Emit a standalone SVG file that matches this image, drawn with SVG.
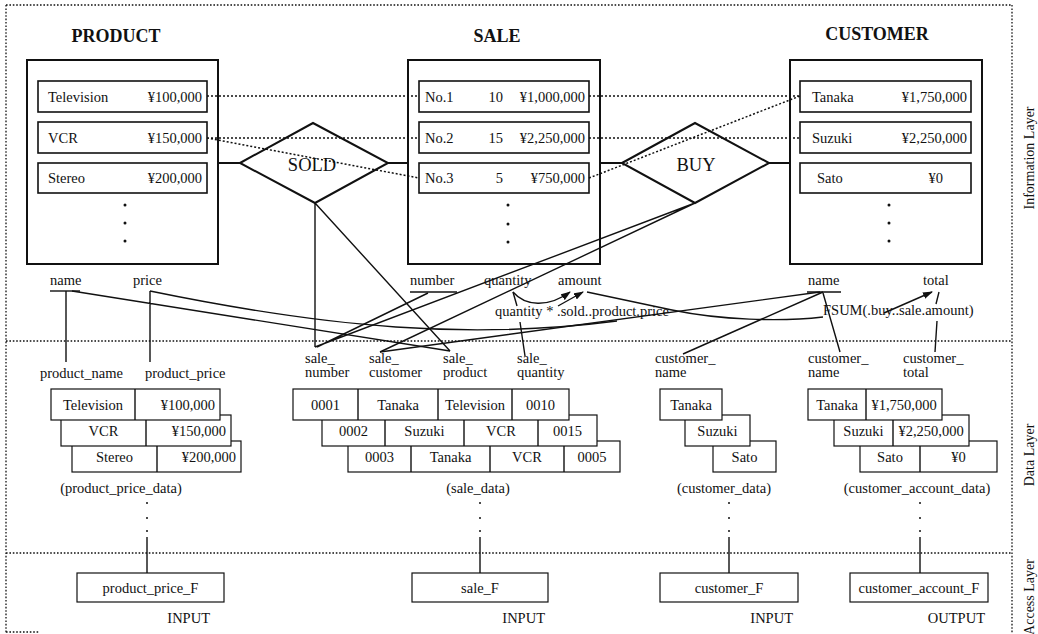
<svg xmlns="http://www.w3.org/2000/svg" width="1038" height="634" viewBox="0 0 1038 634">
<style>
text{font-family:"Liberation Serif","Times New Roman",serif;font-size:14.5px;fill:#111}
.title{font-size:18px;font-weight:bold}
.dia{font-size:18.5px}
.lay{font-size:14px}
.m{text-anchor:middle}
.e{text-anchor:end}
.ent{fill:#fff;stroke:#111;stroke-width:2}
.row{fill:#fff;stroke:#111;stroke-width:1.6}
.cell{fill:#fff;stroke:#111;stroke-width:1.2}
.ln{fill:none;stroke:#111;stroke-width:1.4}
.bold{fill:none;stroke:#111;stroke-width:2}
.dot{fill:none;stroke:#111;stroke-width:1.3;stroke-dasharray:1.6 1.8}
.rel{fill:none;stroke:#111;stroke-width:1.5;stroke-dasharray:2 2}
.pt{fill:#111}
</style>
<defs>
<marker id="ah" markerUnits="userSpaceOnUse" markerWidth="10" markerHeight="7" refX="9" refY="3.5" orient="auto">
<path d="M0,0 L10,3.5 L0,7 z" fill="#111"/>
</marker>
</defs>

<g id="layers">
<path class="dot" d="M6,5 H1012 M6,5 V634 M1012,5 V634 M6,341 H1012 M6,553 H1012 M6,632 H40"/>
<text class="lay m" transform="translate(1034,158) rotate(-90)">Information Layer</text>
<text class="lay m" transform="translate(1034,455) rotate(-90)">Data Layer</text>
<text class="lay m" transform="translate(1034,597) rotate(-90)">Access Layer</text>
</g>

<g id="product">
<text class="title m" x="116" y="42">PRODUCT</text>
<rect class="ent" x="27" y="60" width="191" height="204"/>
<rect class="row" x="38" y="81" width="169" height="31"/>
<rect class="row" x="38" y="122" width="169" height="31"/>
<rect class="row" x="38" y="163" width="169" height="30"/>
<text x="48" y="102">Television</text><text class="e" x="202" y="102">¥100,000</text>
<text x="48" y="143">VCR</text><text class="e" x="202" y="143">¥150,000</text>
<text x="48" y="183">Stereo</text><text class="e" x="202" y="183">¥200,000</text>
<circle class="pt" cx="125" cy="205" r="1.5"/><circle class="pt" cx="125" cy="223" r="1.5"/><circle class="pt" cx="125" cy="241" r="1.5"/>
<text x="50" y="285">name</text><path class="ln" d="M50,291 H80"/>
<text x="133" y="285">price</text>
</g>

<g id="sale">
<text class="title m" x="497" y="42">SALE</text>
<rect class="ent" x="408" y="60" width="192" height="204"/>
<rect class="row" x="419" y="81" width="170" height="31"/>
<rect class="row" x="419" y="122" width="170" height="31"/>
<rect class="row" x="419" y="163" width="170" height="30"/>
<text x="425" y="102">No.1</text><text class="e" x="503" y="102">10</text><text class="e" x="585" y="102">¥1,000,000</text>
<text x="425" y="143">No.2</text><text class="e" x="503" y="143">15</text><text class="e" x="585" y="143">¥2,250,000</text>
<text x="425" y="183">No.3</text><text class="e" x="503" y="183">5</text><text class="e" x="585" y="183">¥750,000</text>
<circle class="pt" cx="508" cy="205" r="1.5"/><circle class="pt" cx="508" cy="224" r="1.5"/><circle class="pt" cx="508" cy="242" r="1.5"/>
<text x="410" y="285">number</text><path class="ln" d="M410,292 H457"/>
<text x="484" y="285">quantity</text>
<text x="558" y="285">amount</text>
<text x="495" y="316">quantity * .sold..product.price</text>
</g>

<g id="customer">
<text class="title m" x="877" y="40">CUSTOMER</text>
<rect class="ent" x="790" y="60" width="192" height="204"/>
<rect class="row" x="800" y="81" width="171" height="31"/>
<rect class="row" x="800" y="122" width="171" height="31"/>
<rect class="row" x="800" y="163" width="171" height="30"/>
<text x="812" y="102">Tanaka</text><text class="e" x="967" y="102">¥1,750,000</text>
<text x="812" y="143">Suzuki</text><text class="e" x="967" y="143">¥2,250,000</text>
<text x="817" y="183">Sato</text><text class="e" x="943" y="183">¥0</text>
<circle class="pt" cx="889" cy="205" r="1.5"/><circle class="pt" cx="889" cy="223" r="1.5"/><circle class="pt" cx="889" cy="241" r="1.5"/>
<text x="808" y="285">name</text><path class="ln" d="M807,292 H841"/>
<text x="923" y="285">total</text>
<text x="823" y="315">FSUM(.buy..sale.amount)</text>
</g>

<g id="sold">
<path class="bold" d="M240,163 L313,123 L388,163 L315,203 Z" fill="#fff"/>
<text class="dia m" x="312" y="171">SOLD</text>
</g>

<g id="buy">
<path class="bold" d="M622,163 L695,123 L769,163 L695,203 Z" fill="#fff"/>
<text class="dia m" x="696" y="171">BUY</text>
</g>

<g id="product_price_data">
<text x="40" y="378">product_name</text>
<text x="145" y="378">product_price</text>
<rect class="cell" x="72" y="441" width="169" height="31"/><path class="ln" d="M157,441 V472"/>
<rect class="cell" x="61" y="415" width="170" height="31"/><path class="ln" d="M146,415 V446"/>
<rect class="cell" x="51" y="389" width="169" height="31"/><path class="ln" d="M135,389 V420"/>
<text class="m" x="93" y="410">Television</text><text class="e" x="215" y="410">¥100,000</text>
<text class="m" x="103.5" y="436">VCR</text><text class="e" x="226" y="436">¥150,000</text>
<text class="m" x="114.5" y="462">Stereo</text><text class="e" x="236" y="462">¥200,000</text>
<text class="m" x="121" y="493">(product_price_data)</text>
</g>

<g id="sale_data">
<text x="305" y="363">sale_</text><text x="305" y="377">number</text>
<text x="369" y="363">sale_</text><text x="369" y="377">customer</text>
<text x="443" y="363">sale_</text><text x="443" y="377">product</text>
<text x="517" y="363">sale_</text><text x="517" y="377">quantity</text>
<rect class="cell" x="348" y="441" width="272" height="31"/><path class="ln" d="M411,441 V472 M490,441 V472 M564,441 V472"/>
<rect class="cell" x="322" y="415" width="275" height="31"/><path class="ln" d="M385,415 V446 M464,415 V446 M538,415 V446"/>
<rect class="cell" x="293" y="389" width="276" height="31"/><path class="ln" d="M358,389 V420 M438,389 V420 M512,389 V420"/>
<text class="m" x="325.5" y="410">0001</text><text class="m" x="398" y="410">Tanaka</text><text class="m" x="475" y="410">Television</text><text class="m" x="540.5" y="410">0010</text>
<text class="m" x="353.5" y="436">0002</text><text class="m" x="424.5" y="436">Suzuki</text><text class="m" x="501" y="436">VCR</text><text class="m" x="567.5" y="436">0015</text>
<text class="m" x="379.5" y="462">0003</text><text class="m" x="450.5" y="462">Tanaka</text><text class="m" x="527" y="462">VCR</text><text class="m" x="592" y="462">0005</text>
<text class="m" x="478" y="493">(sale_data)</text>
</g>

<g id="customer_data">
<text x="655" y="363">customer_</text><text x="655" y="377">name</text>
<rect class="cell" x="713" y="441" width="63" height="31"/>
<rect class="cell" x="685" y="415" width="65" height="31"/>
<rect class="cell" x="660" y="389" width="62" height="31"/>
<text class="m" x="691" y="410">Tanaka</text>
<text class="m" x="717.5" y="436">Suzuki</text>
<text class="m" x="744.5" y="462">Sato</text>
<text class="m" x="724" y="493">(customer_data)</text>
</g>

<g id="customer_account_data">
<text x="808" y="363">customer_</text><text x="808" y="377">name</text>
<text x="903" y="363">customer_</text><text x="903" y="377">total</text>
<rect class="cell" x="860" y="441" width="137" height="31"/><path class="ln" d="M920,441 V472"/>
<rect class="cell" x="834" y="415" width="135" height="31"/><path class="ln" d="M893,415 V446"/>
<rect class="cell" x="808" y="389" width="134" height="31"/><path class="ln" d="M866,389 V420"/>
<text class="m" x="837" y="410">Tanaka</text><text class="m" x="904" y="410">¥1,750,000</text>
<text class="m" x="863.5" y="436">Suzuki</text><text class="m" x="931" y="436">¥2,250,000</text>
<text class="m" x="890" y="462">Sato</text><text class="m" x="958.5" y="462">¥0</text>
<text class="m" x="917" y="493">(customer_account_data)</text>
</g>

<g id="product_price_F">
<rect class="cell" x="77" y="573" width="147" height="29"/>
<text class="m" x="150.5" y="593">product_price_F</text>
<text class="e" x="210" y="623">INPUT</text>
</g>
<g id="sale_F">
<rect class="cell" x="412" y="573" width="136" height="29"/>
<text class="m" x="480" y="593">sale_F</text>
<text class="e" x="545" y="623">INPUT</text>
</g>
<g id="customer_F">
<rect class="cell" x="660" y="573" width="138" height="29"/>
<text class="m" x="729" y="593">customer_F</text>
<text class="e" x="793" y="623">INPUT</text>
</g>
<g id="customer_account_F">
<rect class="cell" x="850" y="573" width="138" height="29"/>
<text class="m" x="919" y="593">customer_account_F</text>
<text class="e" x="985" y="623">OUTPUT</text>
</g>

<g id="connectors">
<path class="bold" d="M218,163 H240 M388,163 H408 M600,163 H622 M769,163 H790"/>
<path class="rel" d="M207,96 H419 M207,138 H419 M207,138 L419,178 M589,96 H800 M589,138 H800 M589,178 L800,96"/>
<path class="ln" d="M315,203 V347 M315,203 L450,351 M695,203 L315,347 M695,203 L380,352 M428,293 L317,347"/>
<path class="ln" d="M66,291 V362 M150,291 V362 M72,291 L450,351 M150,291 C330,328 470,340 617,321"/>
<path class="ln" d="M380,352 L820,292 M823,292 L683,354 M823,293 L840,352"/>
<path class="ln" d="M513,292 L517,306 M520,322 L525,356"/>
<path class="ln" d="M513,292 C525,306 548,308 570,292" marker-end="url(#ah)"/>
<path class="ln" d="M558,306 L583,292" marker-end="url(#ah)"/>
<path class="ln" d="M587,292 L672,310 C720,320 780,322 823,317"/>
<path class="ln" d="M884,313 L932,292" marker-end="url(#ah)"/>
<path class="ln" d="M939,292 L936,304 M937,321 L935,352"/>
<path class="ln" d="M147,537 V573 M480,537 V573 M729,537 V573 M920,537 V573"/>
<g class="pt">
<circle cx="147" cy="503" r="1"/><circle cx="147" cy="518" r="1"/><circle cx="147" cy="531" r="1"/>
<circle cx="480" cy="503" r="1"/><circle cx="480" cy="518" r="1"/><circle cx="480" cy="531" r="1"/>
<circle cx="729" cy="503" r="1"/><circle cx="729" cy="518" r="1"/><circle cx="729" cy="531" r="1"/>
<circle cx="920" cy="503" r="1"/><circle cx="920" cy="518" r="1"/><circle cx="920" cy="531" r="1"/>
</g>
</g>
</svg>
